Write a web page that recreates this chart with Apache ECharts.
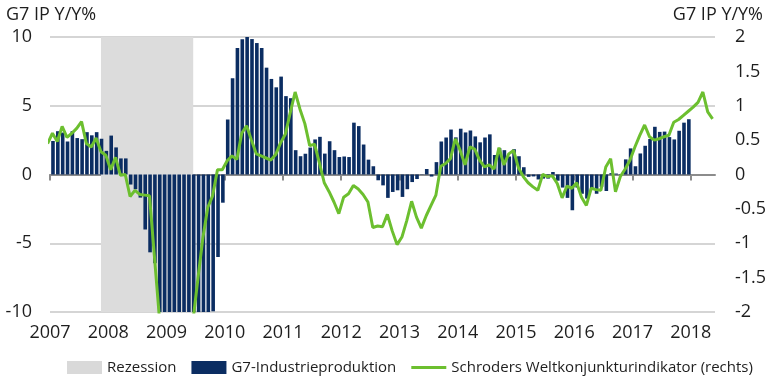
<!DOCTYPE html>
<html><head><meta charset="utf-8">
<script src="https://cdn.jsdelivr.net/npm/echarts@6/dist/echarts.min.js"></script>
<style>html,body{margin:0;padding:0;background:#fff}#c{width:770px;height:382px}</style>
</head><body><div id="c"></div>
<script>
// ---- data ----
const yearTicks = [2007,2008,2009,2010,2011,2012,2013,2014,2015,2016,2017,2018];
const axisEnd = '2018-06';          // x axis ends at start of June 2018
const ipStart = '2007-01';          // first month of G7 IP bars
const ipValues = [
  2.44, 3.15, 3.05, 2.4, 3.15, 2.65, 2.57, 3.08, 2.85, 3.08, 2.6, 1.72,
  2.83, 1.97, 1.17, 1.17, -0.73, -1.07, -1.68, -4.0, -5.66, -6.45, -10.8, -13.0,
  -15.5, -16.5, -17.0, -16.5, -16.0, -15.0, -13.5, -12.0, -11.0, -9.95, -6.0, -2.05,
  4.0, 7.0, 9.2, 9.83, 10.0, 9.85, 9.56, 9.2, 7.77, 6.95, 6.34, 7.12,
  5.7, 5.55, 1.77, 1.33, 1.51, 1.96, 2.55, 2.74, 1.52, 2.42, 1.77, 1.27,
  1.31, 1.27, 3.77, 3.52, 2.18, 1.08, 0.6, -0.42, -0.79, -1.7, -1.27, -1.15,
  -1.63, -1.07, -0.55, -0.33, 0.02, 0.4, -0.15, 0.9, 2.4, 2.69, 3.27, 2.7,
  3.33, 3.06, 3.2, 2.77, 2.34, 2.69, 2.92, 1.42, 1.91, 1.77, 1.31, 1.84,
  1.33, 0.53, -0.17, -0.14, -0.36, -0.3, -0.3, 0.18, -0.45, -0.95, -1.7, -2.6,
  -0.95, -1.4, -1.75, -1.0, -1.4, -0.9, -1.2, 0.1, 0.07, 0.03, 1.1, 1.9,
  0.6, 1.53, 2.09, 2.58, 3.47, 3.1, 3.12, 2.72, 2.55, 3.18, 3.77, 4.02
];
const swiStart = '2006-12';         // first month of Schroders indicator
const swiValues = [
  0.45,
  0.6, 0.48, 0.7, 0.54, 0.6, 0.67, 0.77, 0.45, 0.4, 0.53, 0.33, 0.28,
  0.07, 0.25, -0.01, 0.0, -0.32, -0.23, -0.29, -0.3, -0.31, -1.18, -2.05, -2.5,
  -2.7, -3.0, -3.0, -2.9, -2.6, -2.1, -1.5, -0.92, -0.48, -0.31, 0.07, 0.07,
  0.2, 0.27, 0.22, 0.6, 0.71, 0.5, 0.3, 0.27, 0.24, 0.21, 0.29, 0.46,
  0.59, 0.9, 1.2, 0.95, 0.74, 0.42, 0.44, 0.17, -0.12, -0.25, -0.4, -0.57,
  -0.33, -0.28, -0.16, -0.21, -0.29, -0.4, -0.77, -0.75, -0.76, -0.58, -0.82, -1.02,
  -0.91, -0.67, -0.39, -0.62, -0.78, -0.6, -0.45, -0.3, 0.12, 0.16, 0.23, 0.52,
  0.35, 0.14, 0.4, 0.37, 0.21, 0.11, 0.14, 0.08, 0.39, 0.14, 0.3, 0.35,
  0.1, -0.03, -0.12, -0.18, -0.23, 0.0, -0.03, -0.02, -0.13, -0.34, -0.17, -0.2,
  -0.12, -0.33, -0.45, -0.2, -0.22, -0.23, 0.11, 0.23, -0.25, -0.03, 0.08, 0.21,
  0.4, 0.57, 0.72, 0.55, 0.5, 0.52, 0.55, 0.57, 0.76, 0.8, 0.86, 0.92,
  0.98, 1.05, 1.2, 0.91, 0.81
];
const recessionMonths = ['2007-11', '2009-06']; // shaded from mid-month to mid-month
const leftTicks = [-10, -5, 0, 5, 10];
const rightTicks = [-2, -1.5, -1, -0.5, 0, 0.5, 1, 1.5, 2];
const axisTitle = 'G7 IP Y/Y%';
const seriesNames = ['Rezession', 'G7-Industrieproduktion', 'Schroders Weltkonjunkturindikator (rechts)'];

// ---- helpers ----
function monthStart(ym){ const p = ym.split('-').map(Number); return p[0] + (p[1]-1)/12; }
function monthMid(ym){ return monthStart(ym) + 0.5/12; }
function points(start, values){ const s = monthStart(start); return values.map((v,i)=>[s + (i+0.5)/12, v]); }

const FONT = 'Open Sans';
const TXT = '#1e1e1e';
const GREEN = '#6cbf2f';
const chart = echarts.init(document.getElementById('c'), null, {renderer:'canvas'});
const xMin = yearTicks[0], xMax = monthStart(axisEnd);
chart.setOption({
  animation: false,
  backgroundColor: '#fff',
  textStyle: {fontFamily: FONT},
  title: [
    {text: axisTitle, left: 1, top: 1, textStyle:{fontFamily:FONT, fontSize:18, fontWeight:'normal', color:TXT}},
    {text: axisTitle, right: 2, top: 1, textStyle:{fontFamily:FONT, fontSize:18, fontWeight:'normal', color:TXT}}
  ],
  grid: {left: 50, right: 55, top: 37, bottom: 70, containLabel: false},
  legend: {
    left: 62, top: 355, itemWidth: 35, itemHeight: 13, itemGap: 15, symbolKeepAspect: true,
    textStyle: {fontFamily: FONT, fontSize: 15, color: TXT},
    data: [
      {name: seriesNames[0], icon: 'rect'},
      {name: seriesNames[1], icon: 'rect'},
      {name: seriesNames[2], icon: 'path://M0,0L35,0L35,3L0,3Z', itemStyle:{color:GREEN, borderWidth:0}}
    ]
  },
  xAxis: [
    {type:'value', min:xMin, max:xMax, position:'bottom',
     axisLine:{show:false}, axisTick:{show:false}, splitLine:{show:false},
     axisLabel:{customValues: yearTicks, formatter: v => String(Math.round(v)), fontSize:18, color:TXT, margin:12, fontFamily:FONT}},
    {type:'value', min:xMin, max:xMax, position:'bottom', gridIndex:0,
     axisLine:{show:true, onZero:true, onZeroAxisIndex:0, lineStyle:{color:'#8c8c8c', width:2}},
     axisTick:{show:true, customValues: yearTicks, length:6, lineStyle:{color:'#8c8c8c', width:2}},
     axisLabel:{show:false}, splitLine:{show:false}}
  ],
  yAxis: [
    {type:'value', min:leftTicks[0], max:leftTicks[leftTicks.length-1], interval:5, position:'left',
     axisLine:{show:false}, axisTick:{show:false},
     axisLabel:{fontSize:18, color:TXT, margin:18, fontFamily:FONT},
     splitLine:{show:true, lineStyle:{color:'#d5d5d5', width:2}}},
    {type:'value', min:rightTicks[0], max:rightTicks[rightTicks.length-1], interval:0.5, position:'right',
     axisLine:{show:false}, axisTick:{show:false},
     axisLabel:{fontSize:18, color:TXT, margin:20, fontFamily:FONT},
     splitLine:{show:false}}
  ],
  series: [
    {name: seriesNames[0], type:'bar', data:[], xAxisIndex:0, yAxisIndex:0, z:1,
     itemStyle:{color:'#d9d9d9'},
     markArea:{silent:true, itemStyle:{color:'#dcdcdc'},
       data:[[{xAxis: monthMid(recessionMonths[0])},{xAxis: monthMid(recessionMonths[1])}]]}},
    {name: seriesNames[1], type:'bar', xAxisIndex:0, yAxisIndex:0, z:3,
     barWidth: 3.6, itemStyle:{color:'#0b2d62'},
     data: points(ipStart, ipValues)},
    {name: seriesNames[2], type:'line', xAxisIndex:0, yAxisIndex:1, z:4,
     symbol:'none', showSymbol:false, clip:true,
     lineStyle:{color:GREEN, width:3}, itemStyle:{color:GREEN},
     data: points(swiStart, swiValues)}
  ]
});
</script>
</body></html>
